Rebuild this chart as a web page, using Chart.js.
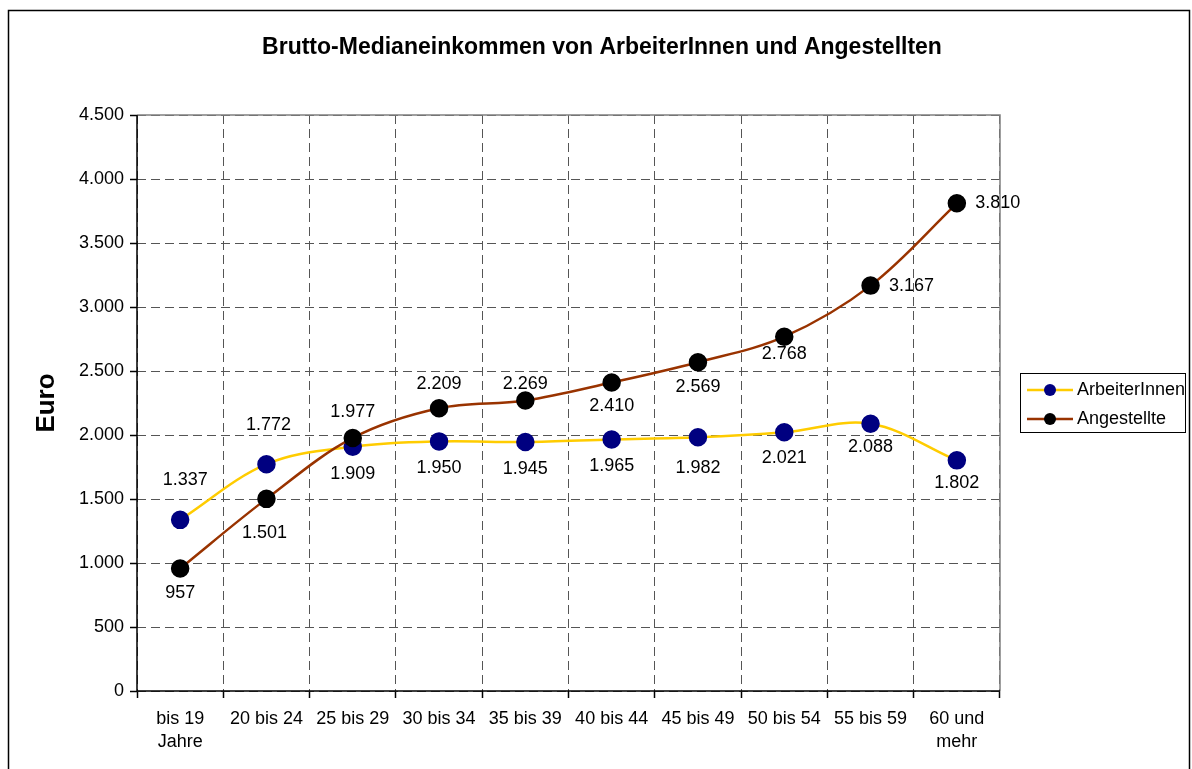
<!DOCTYPE html>
<html>
<head>
<meta charset="utf-8">
<style>
  html, body { margin: 0; padding: 0; background: #fff; }
  #wrap { width: 1192px; height: 769px; position: relative; }
</style>
<script src="https://cdn.jsdelivr.net/npm/chart.js@4/dist/chart.umd.min.js"></script>
</head>
<body>
<div id="wrap"><canvas id="chart" width="1192" height="769"></canvas></div>
<script>
// Daten
const categories = [['bis 19', 'Jahre'], '20 bis 24', '25 bis 29', '30 bis 34', '35 bis 39',
    '40 bis 44', '45 bis 49', '50 bis 54', '55 bis 59', ['60 und', 'mehr']];
const arbeiterInnen = [1337, 1772, 1909, 1950, 1945, 1965, 1982, 2021, 2088, 1802];
const angestellte = [957, 1501, 1977, 2209, 2269, 2410, 2569, 2768, 3167, 3810];
const yTicks = [0, 500, 1000, 1500, 2000, 2500, 3000, 3500, 4000, 4500];

// Beschriftungs-Versatz (nur Stil)
const arbLabelDx = [5, 2, 0, 0, 0, 0, 0, 0, 0, 0];
const arbLabelDy = [-40, -39, 27, 27, 27, 27, 31, 26, 23, 23];
const angLabelDx = [0, -2, 0, 0, 0, 0, 0, 0, 41, 41];
const angLabelDy = [25, 34, -26, -24, -17, 24, 25, 17, 0, 0];

const FONT = "'Liberation Sans', Arial, sans-serif";
const fmt = (v) => String(v).replace(/\B(?=(\d{3})+(?!\d))/g, '.');

Chart.defaults.font.family = FONT;
Chart.defaults.color = '#000';

function txt(ctx, text, x, y, align) {
    ctx.textAlign = align;
    ctx.textBaseline = 'middle';
    ctx.fillText(text, x, y);
}

const framePlugin = {
    id: 'frame',
    beforeDraw(chart) {
        const ctx = chart.ctx;
        ctx.save();
        ctx.strokeStyle = '#000';
        ctx.lineWidth = 1.5;
        ctx.strokeRect(8.5, 10.5, 1181, 800);
        ctx.restore();
    },
    beforeDatasetsDraw(chart) {
        const ctx = chart.ctx;
        const a = chart.chartArea;
        ctx.save();
        // Plotrahmen oben / rechts
        ctx.strokeStyle = '#808080';
        ctx.lineWidth = 1.5;
        ctx.beginPath();
        ctx.moveTo(a.left, a.top);
        ctx.lineTo(a.right, a.top);
        ctx.lineTo(a.right, a.bottom);
        ctx.stroke();
        // Achsen
        ctx.strokeStyle = '#000';
        ctx.beginPath();
        ctx.moveTo(a.left, a.top);
        ctx.lineTo(a.left, a.bottom);
        ctx.lineTo(a.right, a.bottom);
        ctx.stroke();
        ctx.restore();
    },
    afterDraw(chart) {
        const ctx = chart.ctx;
        ctx.save();
        // Achsenbeschriftungen
        ctx.fillStyle = '#000';
        ctx.font = '18px ' + FONT;
        const ys = chart.scales.y;
        ys.ticks.forEach((t, i) => {
            txt(ctx, fmt(t.value), ys.right - 13, ys.getPixelForTick(i), 'right');
        });
        const xs = chart.scales.x;
        chart.data.labels.forEach((lab, i) => {
            const lines = Array.isArray(lab) ? lab : [lab];
            lines.forEach((l, k) => txt(ctx, l, xs.getPixelForTick(i), 719 + k * 23, 'center'));
        });

        // Titel
        ctx.font = 'bold 23px ' + FONT;
        txt(ctx, 'Brutto-Medianeinkommen von ArbeiterInnen und Angestellten', 602, 48, 'center');

        // Achsentitel
        ctx.save();
        ctx.translate(47, 403);
        ctx.rotate(-Math.PI / 2);
        ctx.font = 'bold 26px ' + FONT;
        txt(ctx, 'Euro', 0, 0, 'center');
        ctx.restore();

        // Legende
        ctx.strokeStyle = '#000';
        ctx.lineWidth = 1;
        ctx.strokeRect(1020.5, 373.5, 165, 59);
        ctx.font = '18px ' + FONT;
        chart.data.datasets.forEach((ds, i) => {
            const y = 390 + i * 29;
            ctx.strokeStyle = ds.borderColor;
            ctx.lineWidth = 2.5;
            ctx.beginPath();
            ctx.moveTo(1027, y);
            ctx.lineTo(1073, y);
            ctx.stroke();
            ctx.fillStyle = ds.pointBackgroundColor;
            ctx.beginPath();
            ctx.arc(1050, y, 6, 0, Math.PI * 2);
            ctx.fill();
            ctx.fillStyle = '#000';
            txt(ctx, ds.label, 1077, y, 'left');
        });
        ctx.restore();
    }
};

const labelPlugin = {
    id: 'pointLabels',
    afterDatasetsDraw(chart) {
        const ctx = chart.ctx;
        ctx.save();
        ctx.font = '18px ' + FONT;
        ctx.fillStyle = '#000';
        chart.data.datasets.forEach((ds, i) => {
            const meta = chart.getDatasetMeta(i);
            meta.data.forEach((pt, j) => {
                txt(ctx, fmt(ds.data[j]), pt.x + ds.labelDx[j], pt.y + ds.labelDy[j], 'center');
            });
        });
        ctx.restore();
    }
};

new Chart(document.getElementById('chart'), {
    type: 'line',
    data: {
        labels: categories,
        datasets: [
            {
                label: 'ArbeiterInnen', data: arbeiterInnen, order: 1,
                borderColor: '#FFCC00', borderWidth: 2.5,
                pointBackgroundColor: '#000080', pointBorderColor: '#000080',
                pointRadius: 8, pointHoverRadius: 8, tension: 0.35,
                labelDx: arbLabelDx, labelDy: arbLabelDy
            },
            {
                label: 'Angestellte', data: angestellte, order: 0,
                borderColor: '#993300', borderWidth: 2.5,
                pointBackgroundColor: '#000000', pointBorderColor: '#000000',
                pointRadius: 8, pointHoverRadius: 8, tension: 0.35,
                labelDx: angLabelDx, labelDy: angLabelDy
            }
        ]
    },
    options: {
        responsive: false,
        animation: false,
        layout: { padding: { top: 115, right: 192, bottom: 0, left: 0 } },
        plugins: { legend: { display: false }, title: { display: false }, tooltip: { enabled: false } },
        scales: {
            x: {
                offset: true,
                afterFit: (s) => { s.height = 78; },
                grid: {
                    offset: true, color: '#555', lineWidth: 1,
                    tickLength: 7, tickColor: '#000', tickBorderDash: [], tickWidth: 1.5
                },
                border: { display: false, dash: [9, 5] },
                ticks: { display: false, autoSkip: false }
            },
            y: {
                min: 0, max: 4500,
                afterFit: (s) => { s.width = 137; },
                afterBuildTicks: (s) => { s.ticks = yTicks.map(v => ({ value: v })); },
                grid: {
                    color: '#555', lineWidth: 1,
                    tickLength: 7, tickColor: '#000', tickBorderDash: [], tickWidth: 1.5
                },
                border: { display: false, dash: [9, 5] },
                ticks: { display: false }
            }
        }
    },
    plugins: [framePlugin, labelPlugin]
});
</script>
</body>
</html>
